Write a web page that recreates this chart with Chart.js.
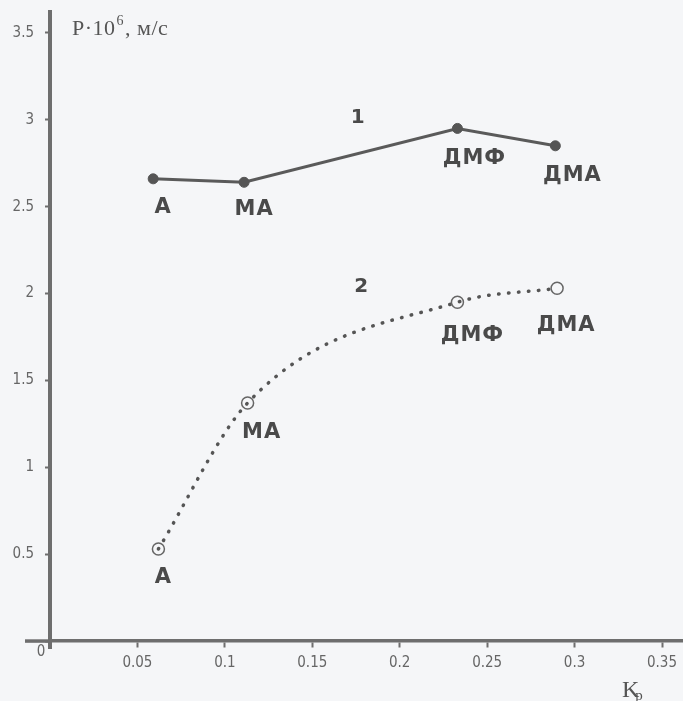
<!DOCTYPE html>
<html>
<head>
<meta charset="utf-8">
<script src="https://cdn.jsdelivr.net/npm/chart.js@4.4.1/dist/chart.umd.min.js"></script>
<style>
  html, body { margin: 0; padding: 0; background: #f5f6f8; }
  #wrap { width: 683px; height: 701px; position: relative; }
</style>
</head>
<body>
<div id="wrap"><canvas id="chart"></canvas></div>
<script>
// values
const xTickValues = [0, 0.05, 0.1, 0.15, 0.2, 0.25, 0.3, 0.35];
const yTickValues = [0, 0.5, 1, 1.5, 2, 2.5, 3, 3.5];
const solvents = ['А', 'МА', 'ДМФ', 'ДМА'];

// curve 1 (solid, filled markers)
const kp1 = [0.059, 0.111, 0.233, 0.289];
const p1 = [2.66, 2.64, 2.95, 2.85];

// curve 2 (dotted, open markers)
const kp2 = [0.062, 0.113, 0.233, 0.290];
const p2 = [0.53, 1.37, 1.95, 2.03];

// curve numbers, placed in data units
const curveTags = [
  { text: '1', x: 0.176, y: 3.01 },
  { text: '2', x: 0.178, y: 2.04 }
];

// pixel offsets of the solvent labels from their points
const labelOffsets = [
  [[10, 29], [10, 27], [17, 30], [17, 30]],
  [[5, 29], [14, 30], [15, 33], [9, 37]]
];

const ink = '#555';
const axisColor = '#6e6e6e';

const labelsPlugin = {
  id: 'labels',
  beforeDatasetsDraw(chart) {
    // x axis runs a little past the y axis on the left
    const ctx = chart.ctx;
    const ox = chart.scales.x.getPixelForValue(0), oy = chart.scales.y.getPixelForValue(0);
    ctx.save();
    ctx.strokeStyle = axisColor;
    ctx.lineWidth = 3.5;
    ctx.beginPath();
    ctx.moveTo(ox - 25, oy);
    ctx.lineTo(ox, oy);
    ctx.stroke();
    ctx.restore();
  },
  afterDatasetsDraw(chart) {
    const ctx = chart.ctx;
    const xs = chart.scales.x, ys = chart.scales.y;
    ctx.save();
    ctx.fillStyle = '#4a4a4a';
    ctx.textAlign = 'center';
    ctx.textBaseline = 'middle';
    ctx.font = 'bold 21px "DejaVu Sans", sans-serif';
    if ('letterSpacing' in ctx) ctx.letterSpacing = '1px';
    chart.data.datasets.forEach((ds, di) => {
      chart.getDatasetMeta(di).data.forEach((pt, i) => {
        const off = labelOffsets[di][i];
        ctx.fillText(solvents[i], pt.x + off[0], pt.y + off[1]);
      });
    });
    if ('letterSpacing' in ctx) ctx.letterSpacing = '0px';
    ctx.font = 'bold 20px "DejaVu Sans", sans-serif';
    curveTags.forEach(t => {
      ctx.fillText(t.text, xs.getPixelForValue(t.x), ys.getPixelForValue(t.y));
    });

    // axis names
    const ox = xs.getPixelForValue(0), oy = ys.getPixelForValue(0);
    const topY = ys.getPixelForValue(3.5);
    ctx.fillStyle = ink;
    ctx.textAlign = 'left';
    ctx.textBaseline = 'alphabetic';
    if ('letterSpacing' in ctx) ctx.letterSpacing = '0.5px';
    let tx = ox + 22, ty = topY + 2;
    ctx.font = '22px "Liberation Serif", "Times New Roman", serif';
    ctx.fillText('P·10', tx, ty);
    tx += ctx.measureText('P·10').width;
    ctx.font = '14px "Liberation Serif", serif';
    ctx.fillText('6', tx + 1, ty - 10);
    tx += ctx.measureText('6').width + 2;
    ctx.font = '22px "Liberation Serif", "Times New Roman", serif';
    ctx.fillText(', м/с', tx, ty);

    const kx = xs.getPixelForValue(0.35) - 40;
    ctx.font = '24px "Liberation Serif", serif';
    ctx.fillText('K', kx, oy + 56);
    ctx.font = '15px "Liberation Serif", serif';
    ctx.fillText('р', kx + ctx.measureText('K').width + 2, oy + 59);
    if ('letterSpacing' in ctx) ctx.letterSpacing = '0px';

    // origin label
    ctx.fillStyle = '#666';
    ctx.textAlign = 'center';
    ctx.textBaseline = 'middle';
    ctx.font = '15px "DejaVu Sans Condensed", sans-serif';
    ctx.fillText('0', ox - 9, oy + 11);
    ctx.restore();
  }
};

const tickFont = { family: '"DejaVu Sans Condensed", "DejaVu Sans", sans-serif', size: 15 };

new Chart(document.getElementById('chart'), {
  type: 'scatter',
  data: {
    datasets: [
      {
        data: kp1.map((x, i) => ({ x: x, y: p1[i] })),
        showLine: true,
        borderColor: '#5a5a5a',
        borderWidth: 3,
        pointRadius: 5,
        pointBackgroundColor: ink,
        pointBorderColor: ink,
        pointBorderWidth: 1
      },
      {
        data: kp2.map((x, i) => ({ x: x, y: p2[i] })),
        showLine: true,
        cubicInterpolationMode: 'monotone',
        borderColor: ink,
        borderWidth: 3.5,
        borderDash: [0.5, 9.5],
        borderCapStyle: 'round',
        pointRadius: 6,
        pointBackgroundColor: 'rgba(0,0,0,0)',
        pointBorderColor: '#666',
        pointBorderWidth: 1.5
      }
    ]
  },
  options: {
    responsive: true,
    maintainAspectRatio: false,
    animation: false,
    layout: { autoPadding: false, padding: { left: 0, right: 0, top: 12, bottom: 53 } },
    plugins: { legend: { display: false }, tooltip: { enabled: false } },
    scales: {
      x: {
        type: 'linear',
        min: 0,
        max: 0.362,
        position: { y: 0 },
        afterBuildTicks: s => { s.ticks = xTickValues.map(v => ({ value: v })); },
        afterFit: s => { s.paddingLeft = 0; s.paddingRight = 0; },
        ticks: {
          callback: v => v === 0 ? '' : String(v),
          color: '#666',
          font: tickFont,
          padding: 8,
          maxRotation: 0,
          autoSkip: false
        },
        grid: { drawOnChartArea: false, tickLength: 5, tickWidth: 2, tickColor: axisColor },
        border: { color: axisColor, width: 3.5 }
      },
      y: {
        type: 'linear',
        min: -0.04,
        max: 3.62,
        position: 'left',
        afterBuildTicks: s => { s.ticks = yTickValues.map(v => ({ value: v })); },
        afterFit: s => { s.width = 50; s.paddingTop = 0; s.paddingBottom = 0; },
        ticks: {
          callback: v => v === 0 ? '' : String(v),
          color: '#666',
          font: tickFont,
          padding: 11,
          autoSkip: false
        },
        grid: { drawOnChartArea: false, tickLength: 5, tickWidth: 2, tickColor: axisColor },
        border: { color: axisColor, width: 4 }
      }
    }
  },
  plugins: [labelsPlugin]
});
</script>
</body>
</html>
